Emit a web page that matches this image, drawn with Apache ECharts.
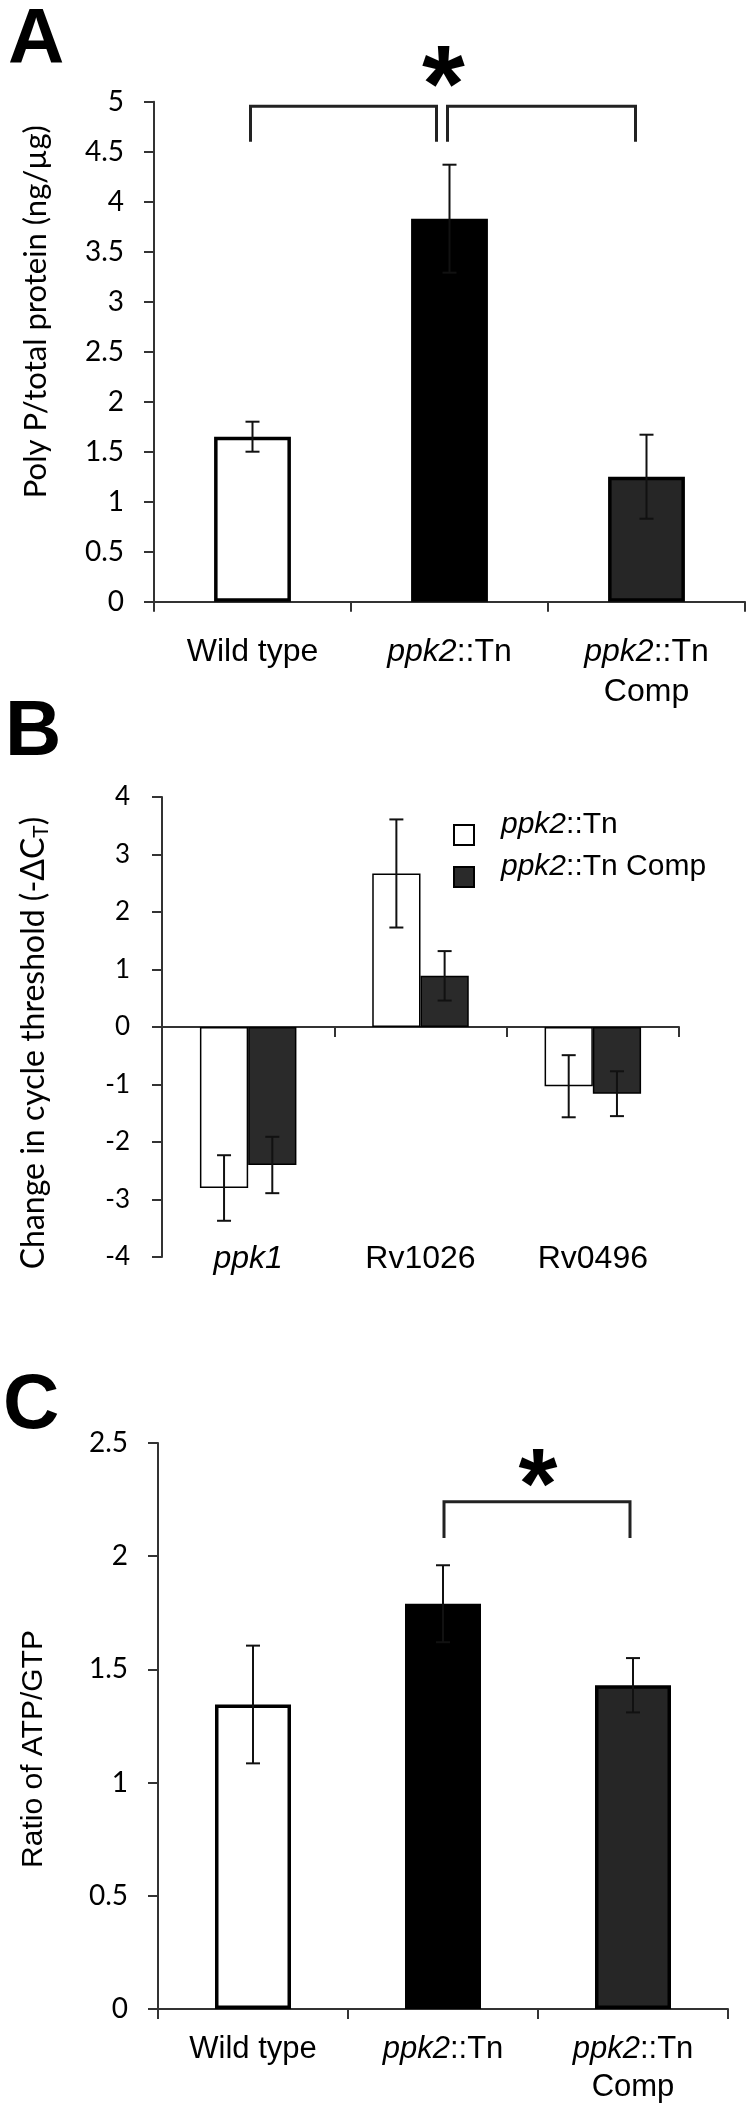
<!DOCTYPE html>
<html>
<head>
<meta charset="utf-8">
<script src="https://cdn.jsdelivr.net/npm/echarts@6/dist/echarts.min.js"></script>
<style>
  html, body { margin: 0; padding: 0; background: #fff; }
  #chart { width: 750px; height: 2119px; }
</style>
</head>
<body>
<div id="chart"></div>
<script>
// ---------- DATA ----------
// Panel A: Poly P / total protein
const catsA = ['Wild type', 'ppk2::Tn', 'ppk2::Tn\nComp'];
const valuesA = [1.65, 3.83, 1.25];
const errorsA = [0.15, 0.54, 0.42];
const bracketsA = [[0, 1, 4.955, 4.6], [1, 2, 4.955, 4.6]];   // [fromCat, toCat, top, legEnd]
const starsA = [[1, 1, 5.36]];                                  // [fromCat, toCat, y]

// Panel B: change in cycle threshold
const catsB = ['ppk1', 'Rv1026', 'Rv0496'];
const seriesNamesB = ['ppk2::Tn', 'ppk2::Tn Comp'];
const valuesBTn = [-2.80, 2.67, -1.03];
const errorsBTn = [0.57, 0.94, 0.54];
const valuesBComp = [-2.40, 0.89, -1.16];
const errorsBComp = [0.49, 0.43, 0.39];

// Panel C: ratio of ATP/GTP
const catsC = ['Wild type', 'ppk2::Tn', 'ppk2::Tn\nComp'];
const valuesC = [1.345, 1.79, 1.43];
const errorsC = [0.26, 0.17, 0.12];
const bracketsC = [[1, 2, 2.24, 2.08]];
const starsC = [[1, 2, 2.39]];

// ---------- STYLE / LAYOUT ----------
const fillsAC = ['#ffffff', '#000000', '#262626'];
const fillsB = ['#ffffff', '#2a2a2a'];
const bracketInsetA = [[-2, -13], [-2, -11]];
const bracketInsetC = [[1, -3]];
const starShiftA = [-6];
const starShiftC = [0];
const AX = '#333';
const TICKFONT = 'Lato';
const LABFONT = 'Liberation Sans';

const chart = echarts.init(document.getElementById('chart'), null, { renderer: 'canvas' });

function italicize(v) { return v.replace(/(ppk\d)/g, '{i|$1}'); }

function errRender(offsetFactor, gapFrac) {
  return function (params, api) {
    const x = api.value(0), v = api.value(1), e = api.value(2);
    const band = api.size([1, 0])[0];
    const off = offsetFactor * band * (1 - gapFrac) / 2;
    const pt = api.coord([x, v + e]), pb = api.coord([x, v - e]);
    const cx = pt[0] + off;
    const st = { stroke: '#111', lineWidth: 2 };
    return { type: 'group', children: [
      { type: 'line', shape: { x1: cx, y1: pt[1], x2: cx, y2: pb[1] }, style: st },
      { type: 'line', shape: { x1: cx - 7, y1: pt[1], x2: cx + 7, y2: pt[1] }, style: st },
      { type: 'line', shape: { x1: cx - 7, y1: pb[1], x2: cx + 7, y2: pb[1] }, style: st }
    ]};
  };
}

function bracketRender(insets) {
  return function (params, api) {
    const ins = insets[params.dataIndex];
    const a = api.coord([api.value(0), api.value(2)]);
    const b = api.coord([api.value(1), api.value(2)]);
    const legY = api.coord([api.value(0), api.value(3)])[1];
    const x1 = a[0] + ins[0], x2 = b[0] + ins[1];
    return { type: 'polyline', shape: { points: [[x1, legY], [x1, a[1]], [x2, a[1]], [x2, legY]] },
      style: { stroke: '#222', lineWidth: 3, fill: null } };
  };
}

function starRender(shifts, size) {
  return function (params, api) {
    const a = api.coord([api.value(0), api.value(2)]);
    const b = api.coord([api.value(1), api.value(2)]);
    const cx = (a[0] + b[0]) / 2 + shifts[params.dataIndex];
    return { type: 'text', x: cx, y: a[1] + size * 0.23,
      style: { text: '*', font: 'bold ' + size + 'px "Liberation Sans"', fill: '#000',
        align: 'center', verticalAlign: 'middle' } };
  };
}

const yAxisCommon = {
  type: 'value',
  splitLine: { show: false },
  axisLine: { show: true, lineStyle: { color: AX, width: 2 } },
  axisTick: { show: true, length: 10, lineStyle: { color: AX, width: 2 } },
  nameLocation: 'middle'
};

const xAxisCommon = {
  type: 'category',
  axisLine: { show: true, lineStyle: { color: AX, width: 2 } },
  axisTick: { show: true, length: 10, interval: 0, lineStyle: { color: AX, width: 2 } }
};

const option = {
  backgroundColor: '#fff',
  animation: false,
  title: [
    { text: 'A', left: 8, top: 2, padding: 0, textStyle: { fontSize: 78, fontWeight: 'bold', fontFamily: LABFONT, color: '#000' } },
    { text: 'B', left: 5, top: 694, padding: 0, textStyle: { fontSize: 78, fontWeight: 'bold', fontFamily: LABFONT, color: '#000' } },
    { text: 'C', left: 3, top: 1367, padding: 0, textStyle: { fontSize: 78, fontWeight: 'bold', fontFamily: LABFONT, color: '#000' } }
  ],
  legend: {
    data: seriesNamesB,
    orient: 'vertical',
    left: 453, top: 810,
    padding: 0,
    itemWidth: 20, itemHeight: 20,
    itemGap: -8,
    icon: 'rect',
    itemStyle: { borderColor: '#000', borderWidth: 2 },
    formatter: italicize,
    textStyle: {
      fontFamily: LABFONT, fontSize: 30, color: '#000', lineHeight: 30,
      padding: [0, 0, 20, 22],
      rich: { i: { fontStyle: 'italic', fontFamily: LABFONT, fontSize: 30, lineHeight: 30 } }
    }
  },
  grid: [
    { left: 154, top: 101.7, width: 591, height: 500 },
    { left: 162, top: 797, width: 517, height: 460 },
    { left: 158, top: 1443, width: 570, height: 566 }
  ],
  xAxis: [
    Object.assign({}, xAxisCommon, { gridIndex: 0, data: catsA,
      axisLabel: { interval: 0, margin: 30, formatter: italicize, fontFamily: LABFONT, fontSize: 32, color: '#000', lineHeight: 40,
        rich: { i: { fontStyle: 'italic', fontFamily: LABFONT, fontSize: 32, lineHeight: 40 } } } }),
    Object.assign({}, xAxisCommon, { gridIndex: 1, data: catsB,
      axisLabel: { interval: 0, margin: -16, formatter: italicize, fontFamily: LABFONT, fontSize: 32, color: '#000', lineHeight: 36,
        rich: { i: { fontStyle: 'italic', fontFamily: LABFONT, fontSize: 32, lineHeight: 36 } } } }),
    Object.assign({}, xAxisCommon, { gridIndex: 2, data: catsC,
      axisLabel: { interval: 0, margin: 21, formatter: italicize, fontFamily: LABFONT, fontSize: 31, color: '#000', lineHeight: 38,
        rich: { i: { fontStyle: 'italic', fontFamily: LABFONT, fontSize: 31, lineHeight: 38 } } } })
  ],
  yAxis: [
    Object.assign({}, yAxisCommon, { gridIndex: 0, min: 0, max: 5, interval: 0.5,
      name: 'Poly P/total protein (ng/µg)', nameGap: 103,
      nameTextStyle: { fontFamily: TICKFONT, fontSize: 31, color: '#000', padding: [0, 0, 0, 80] },
      axisLabel: { margin: 30, fontFamily: TICKFONT, fontSize: 28, color: '#000' } }),
    Object.assign({}, yAxisCommon, { gridIndex: 1, min: -4, max: 4, interval: 1,
      name: 'Change in cycle threshold (-ΔC{s|T})', nameGap: 110,
      nameTextStyle: { fontFamily: TICKFONT, fontSize: 32, color: '#000', padding: [0, 32, 0, 0],
        rich: { s: { fontFamily: TICKFONT, fontSize: 21, verticalAlign: 'bottom', lineHeight: 36 } } },
      axisLabel: { margin: 32, fontFamily: TICKFONT, fontSize: 26, color: '#000' } }),
    Object.assign({}, yAxisCommon, { gridIndex: 2, min: 0, max: 2.5, interval: 0.5,
      name: 'Ratio of ATP/GTP', nameGap: 109,
      nameTextStyle: { fontFamily: LABFONT, fontSize: 30, color: '#000', padding: [0, 46, 0, 0] },
      axisLabel: { margin: 30, fontFamily: TICKFONT, fontSize: 28, color: '#000' } })
  ],
  series: [
    // Panel A
    { type: 'bar', xAxisIndex: 0, yAxisIndex: 0, barCategoryGap: '61%',
      data: valuesA.map((v, i) => ({ value: v, itemStyle: { color: fillsAC[i] } })),
      itemStyle: { borderColor: '#000', borderWidth: 3.5 } },
    { type: 'custom', xAxisIndex: 0, yAxisIndex: 0, clip: false, z: 5,
      renderItem: errRender(0, 0.61), data: valuesA.map((v, i) => [i, v, errorsA[i]]) },
    { type: 'custom', xAxisIndex: 0, yAxisIndex: 0, clip: false, z: 5,
      renderItem: bracketRender(bracketInsetA), data: bracketsA },
    { type: 'custom', xAxisIndex: 0, yAxisIndex: 0, clip: false, z: 5,
      renderItem: starRender(starShiftA, 110), data: starsA },
    // Panel B
    { type: 'bar', name: seriesNamesB[0], xAxisIndex: 1, yAxisIndex: 1, barCategoryGap: '44%', barGap: '0%',
      data: valuesBTn, itemStyle: { color: fillsB[0], borderColor: '#000', borderWidth: 1.5 } },
    { type: 'bar', name: seriesNamesB[1], xAxisIndex: 1, yAxisIndex: 1, barCategoryGap: '44%', barGap: '0%',
      data: valuesBComp, itemStyle: { color: fillsB[1], borderColor: '#000', borderWidth: 1.5 } },
    { type: 'custom', xAxisIndex: 1, yAxisIndex: 1, clip: false, z: 5,
      renderItem: errRender(-0.5, 0.44), data: valuesBTn.map((v, i) => [i, v, errorsBTn[i]]) },
    { type: 'custom', xAxisIndex: 1, yAxisIndex: 1, clip: false, z: 5,
      renderItem: errRender(0.5, 0.44), data: valuesBComp.map((v, i) => [i, v, errorsBComp[i]]) },
    // Panel C
    { type: 'bar', xAxisIndex: 2, yAxisIndex: 2, barCategoryGap: '60%',
      data: valuesC.map((v, i) => ({ value: v, itemStyle: { color: fillsAC[i] } })),
      itemStyle: { borderColor: '#000', borderWidth: 3.5 } },
    { type: 'custom', xAxisIndex: 2, yAxisIndex: 2, clip: false, z: 5,
      renderItem: errRender(0, 0.60), data: valuesC.map((v, i) => [i, v, errorsC[i]]) },
    { type: 'custom', xAxisIndex: 2, yAxisIndex: 2, clip: false, z: 5,
      renderItem: bracketRender(bracketInsetC), data: bracketsC },
    { type: 'custom', xAxisIndex: 2, yAxisIndex: 2, clip: false, z: 5,
      renderItem: starRender(starShiftC, 100), data: starsC }
  ]
};
chart.setOption(option);
</script>
</body>
</html>
